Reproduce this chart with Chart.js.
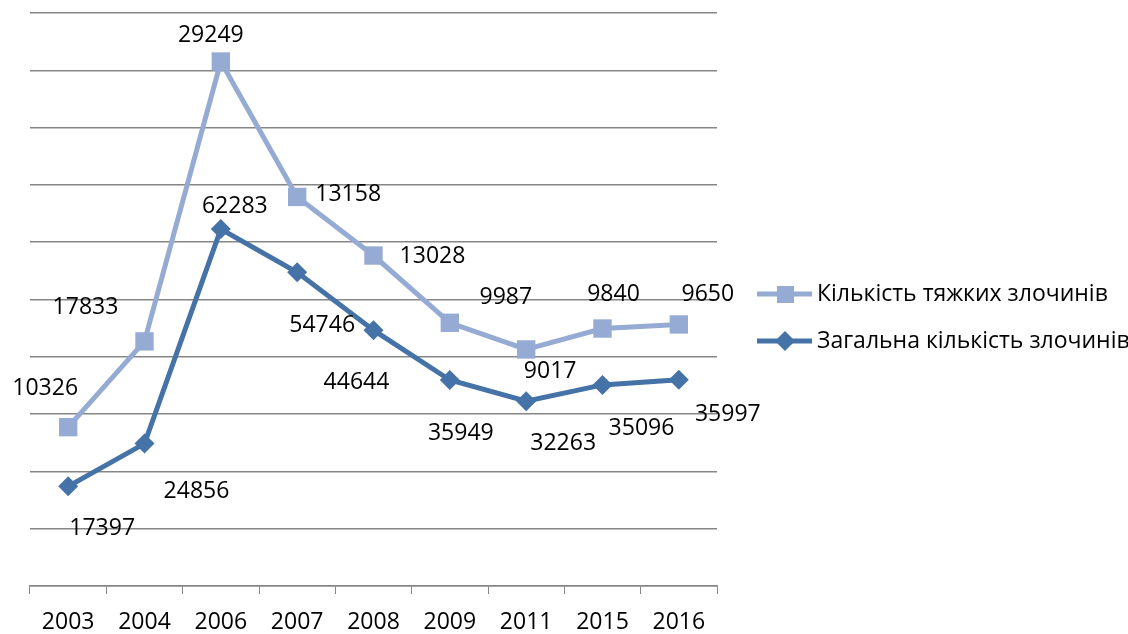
<!DOCTYPE html>
<html>
<head>
<meta charset="utf-8">
<script src="https://cdn.jsdelivr.net/npm/chart.js@4.4.1/dist/chart.umd.min.js"></script>
<style>
  html, body { margin: 0; padding: 0; background: #fff; }
</style>
</head>
<body>
<canvas id="crimeChart" width="1128" height="634"></canvas>
<script>
// Data
const years = ['2003', '2004', '2006', '2007', '2008', '2009', '2011', '2015', '2016'];
const totalCrimes = [17397, 24856, 62283, 54746, 44644, 35949, 32263, 35096, 35997];
const graveCrimes = [10326, 17833, 29249, 13158, 13028, 9987, 9017, 9840, 9650];
const graveLabel = 'Кількість тяжких злочинів';
const totalLabel = 'Загальна кількість злочинів';

const lightBlue = '#95abd4';
const darkBlue = '#4572a7';
const gridGray = '#868686';
const FONT = '"Open Sans", sans-serif';

// where Excel put each data label, relative to its point
const graveLabelOffsets = [[-23, -39], [-59, -34], [-10, -26], [51, -2], [59, 1], [56, -25], [24, 22], [11, -34], [29, -30]];
const totalLabelOffsets = [[34, 42], [52, 48], [14, -23], [25, 53], [-17, 52], [11, 53], [37, 42], [39, 44], [49, 35]];

// data labels drawn next to the points
const pointLabels = {
    id: 'pointLabels',
    afterDatasetsDraw(chart) {
        const ctx = chart.ctx;
        ctx.save();
        ctx.font = '23px ' + FONT;
        ctx.fillStyle = '#000';
        ctx.textAlign = 'center';
        ctx.textBaseline = 'middle';
        chart.data.datasets.forEach((ds, i) => {
            const meta = chart.getDatasetMeta(i);
            meta.data.forEach((pt, j) => {
                const off = ds.labelOffsets[j];
                ctx.fillText(String(ds.data[j]), pt.x + off[0], pt.y + off[1]);
            });
        });
        ctx.restore();
    }
};

// Excel-like legend: line with marker, then text
const sideLegend = {
    id: 'sideLegend',
    afterDraw(chart) {
        const ctx = chart.ctx;
        const items = [chart.data.datasets[1], chart.data.datasets[0]];
        ctx.save();
        items.forEach((ds, k) => {
            const y = 294 + k * 47;
            ctx.strokeStyle = ds.borderColor;
            ctx.lineWidth = 5;
            ctx.beginPath();
            ctx.moveTo(757, y);
            ctx.lineTo(812, y);
            ctx.stroke();
            ctx.fillStyle = ds.borderColor;
            ctx.beginPath();
            if (ds.pointStyle === 'rect') {
                ctx.rect(777, y - 8, 17, 17);
            } else {
                ctx.moveTo(785, y - 10);
                ctx.lineTo(795, y);
                ctx.lineTo(785, y + 10);
                ctx.lineTo(775, y);
                ctx.closePath();
            }
            ctx.fill();
            ctx.fillStyle = '#000';
            ctx.font = '23px ' + FONT;
            ctx.textAlign = 'left';
            ctx.textBaseline = 'middle';
            ctx.fillText(ds.label, 817, y);
        });
        ctx.restore();
    }
};

const ctx = document.getElementById('crimeChart').getContext('2d');
new Chart(ctx, {
    type: 'line',
    data: {
        labels: years,
        datasets: [{
            label: totalLabel,
            data: totalCrimes,
            labelOffsets: totalLabelOffsets,
            borderColor: darkBlue,
            backgroundColor: darkBlue,
            borderWidth: 5,
            pointStyle: 'rectRot',
            pointRadius: 10,
            pointBorderWidth: 0,
            fill: false,
            tension: 0
        }, {
            label: graveLabel,
            data: graveCrimes,
            labelOffsets: graveLabelOffsets,
            borderColor: lightBlue,
            backgroundColor: lightBlue,
            borderWidth: 5,
            pointStyle: 'rect',
            pointRadius: 13,
            pointBorderWidth: 0,
            fill: false,
            tension: 0
        }]
    },
    options: {
        responsive: false,
        animation: false,
        layout: { padding: { left: 30, right: 411, top: 10, bottom: 0 } },
        plugins: {
            legend: { display: false },
            tooltip: { enabled: false }
        },
        scales: {
            x: {
                offset: true,
                grid: { offset: true, drawOnChartArea: false, color: gridGray, tickLength: 8 },
                border: { color: gridGray, width: 1.5 },
                ticks: { color: '#000', font: { family: FONT, size: 23 }, padding: 15 },
                afterFit: (scale) => { scale.height = 48; }
            },
            y: {
                stacked: true,
                min: 0,
                max: 100000,
                ticks: { display: false, stepSize: 10000 },
                grid: { color: gridGray, lineWidth: 1.5, drawTicks: false },
                border: { display: false }
            }
        }
    },
    plugins: [pointLabels, sideLegend]
});
</script>
</body>
</html>
